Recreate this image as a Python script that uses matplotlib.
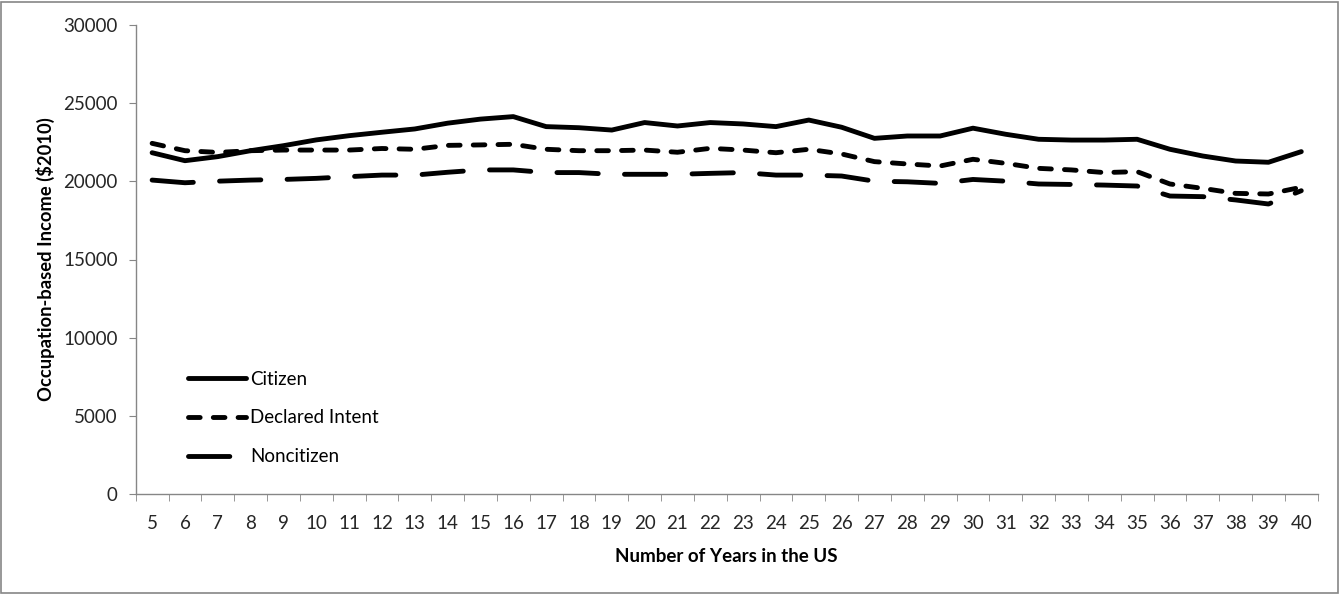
import numpy as np
import matplotlib.pyplot as plt
from matplotlib.patches import Rectangle

years = list(range(5, 41))

citizen = [21830, 21320, 21580, 21960, 22280, 22650, 22920, 23140, 23350, 23720,
           23980, 24140, 23500, 23430, 23280, 23760, 23540, 23760, 23670, 23500,
           23920, 23460, 22750, 22900, 22900, 23400, 23010, 22690, 22640, 22640,
           22690, 22050, 21620, 21300, 21220, 21900]

declared = [22430, 21960, 21850, 21960, 22000, 22000, 22000, 22100, 22050, 22300,
            22330, 22370, 22050, 21960, 21960, 22000, 21860, 22110, 22000, 21830,
            22050, 21750, 21260, 21110, 20980, 21410, 21150, 20830, 20730, 20560,
            20620, 19830, 19550, 19230, 19190, 19620]

noncitizen = [20080, 19910, 20010, 20080, 20120, 20190, 20300, 20400, 20400, 20580,
              20730, 20730, 20560, 20560, 20450, 20450, 20450, 20510, 20560, 20400,
              20400, 20340, 20010, 19970, 19870, 20120, 20010, 19830, 19800, 19760,
              19700, 19060, 19020, 18810, 18550, 19400]

yticks = [0, 5000, 10000, 15000, 20000, 25000, 30000]

plt.rcParams['font.family'] = ['Lato', 'DejaVu Sans']
gray = '#868686'

W, H = 1341, 594
fig = plt.figure(figsize=(W / 100, H / 100), dpi=100)
ax = fig.add_axes([135.7 / W, 1 - 494 / H, (1317.7 - 135.7) / W, (494 - 25) / H])

x = np.arange(len(years))
lw = 3.5
ax.plot(x, citizen, color='black', lw=lw, solid_capstyle='round',
        solid_joinstyle='round', label='Citizen')
ax.plot(x, declared, color='black', lw=lw, linestyle=(0, (2.4, 2.7)),
        dash_capstyle='round', dash_joinstyle='round', label='Declared Intent')
ax.plot(x, noncitizen, color='black', lw=lw, linestyle=(0, (8.5, 5.4)),
        dash_capstyle='round', dash_joinstyle='round', label='Noncitizen')

ax.set_xlim(-0.5, len(years) - 0.5)
ax.set_ylim(0, 30000)
ax.set_yticks(yticks)
ax.set_xticks(x)
ax.set_xticklabels([str(y) for y in years])
ax.set_xticks(np.arange(-0.5, len(years), 1), minor=True)
ax.tick_params(axis='x', which='major', length=0, pad=15, labelsize=13.5, colors='#262626')
ax.tick_params(axis='x', which='minor', length=5, color=gray, direction='out')
ax.tick_params(axis='y', length=5, color=gray, labelsize=13.5, labelcolor='#262626', pad=8)

for s in ['top', 'right']:
    ax.spines[s].set_visible(False)
for s in ['left', 'bottom']:
    ax.spines[s].set_color(gray)
    ax.spines[s].set_linewidth(1)

ax.set_ylabel('Occupation-based Income ($2010)', fontsize=13.2, fontweight='bold', labelpad=6)
ax.set_xlabel('Number of Years in the US', fontsize=13.5, fontweight='bold', labelpad=12)

ax.legend(loc='lower left', bbox_to_anchor=(0.03, 0.025), frameon=False,
          fontsize=13.5, handlelength=3.1, handletextpad=0.2, labelspacing=1.17)

fig.add_artist(Rectangle((0.001, 0.002), 0.997, 0.995, transform=fig.transFigure,
                         fill=False, edgecolor=gray, lw=1.2))

fig.savefig('out.png', dpi=100)
